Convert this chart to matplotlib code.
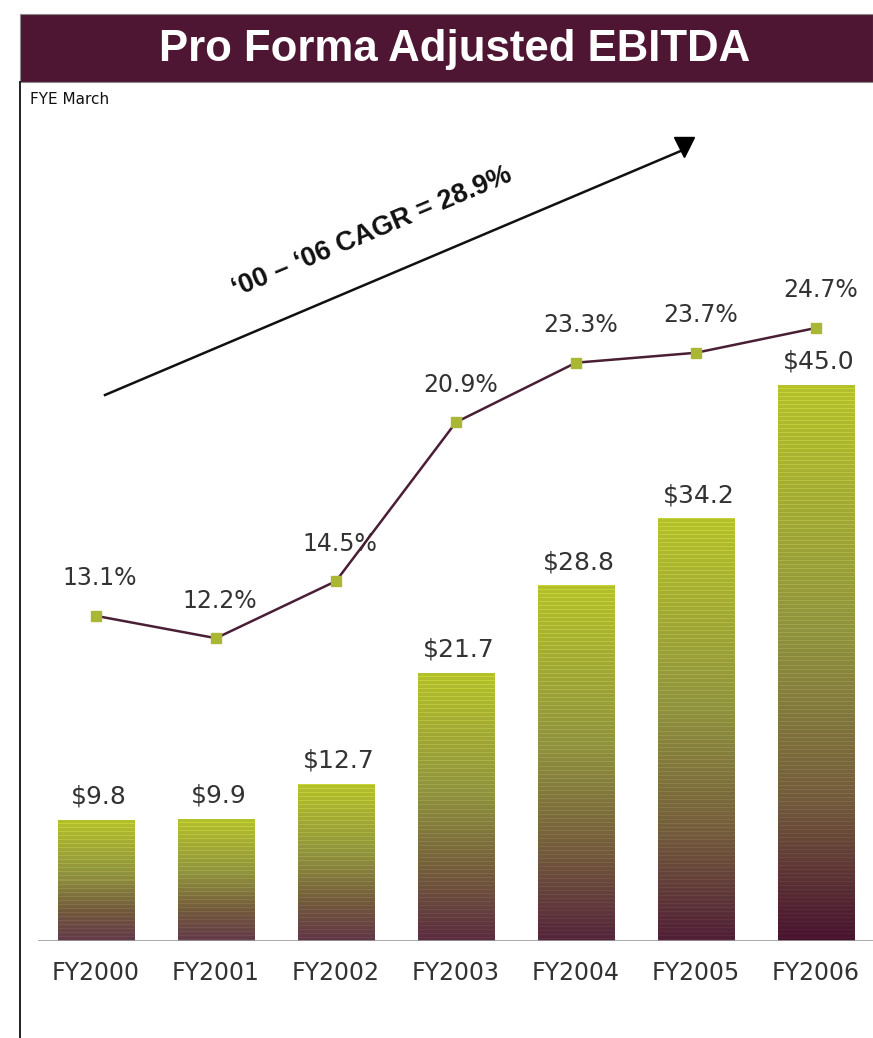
import numpy as np
import matplotlib
matplotlib.use("Agg")
import matplotlib.pyplot as plt
from matplotlib.patches import Rectangle
from matplotlib.colors import LinearSegmentedColormap, to_rgb
from matplotlib.lines import Line2D

# Fiscal years and figures ($M EBITDA, margin %)
years = ["FY2000", "FY2001", "FY2002", "FY2003", "FY2004", "FY2005", "FY2006"]
ebitda = [9.8, 9.9, 12.7, 21.7, 28.8, 34.2, 45.0]
margin = [13.1, 12.2, 14.5, 20.9, 23.3, 23.7, 24.7]
ebitda_labels = ["$9.8", "$9.9", "$12.7", "$21.7", "$28.8", "$34.2", "$45.0"]
margin_labels = ["13.1%", "12.2%", "14.5%", "20.9%", "23.3%", "23.7%", "24.7%"]
title = "Pro Forma Adjusted EBITDA"
subtitle = "FYE March"
cagr_text = "\u201800 \u2013 \u201806 CAGR = 28.9%"

W, H = 873, 1038
DPI = 100
fig = plt.figure(figsize=(W / DPI, H / DPI), dpi=DPI)
fig.patch.set_facecolor("white")

MAROON = "#4e1632"
TEXT = "#333333"

def fx(px):
    return px / W

def fy(py):
    return 1 - py / H

# Title banner
fig.patches.append(Rectangle((fx(20), fy(82)), fx(873) - fx(20), fy(14) - fy(82),
                             transform=fig.transFigure, facecolor=MAROON,
                             edgecolor="#8a8a8a", linewidth=0.8, zorder=1))
fig.text(fx(455), fy(49), title, color="white", fontsize=31.5, fontweight="bold",
         family="Liberation Sans", ha="center", va="center")
fig.text(fx(30), fy(100), subtitle, color="#111111", fontsize=11,
         family="Liberation Sans Narrow", ha="left", va="center")

# Left frame rule
fig.lines.append(Line2D([fx(20), fx(20)], [fy(82), 0], transform=fig.transFigure,
                        color="#222222", linewidth=1.4))

# Plot area
base_y, top_y = 941, 100
ax = fig.add_axes([fx(38), fy(base_y), 1 - fx(38), fy(top_y) - fy(base_y)])
ax.set_xlim(-0.483, 6.475)
ax.set_ylim(0, (base_y - top_y) / 12.356)
ax.axis("off")

x = np.arange(len(years))
bar_w = 0.64

grad_top = to_rgb("#b4c12c")
grad_mid = to_rgb("#8f923f")
grad_low = to_rgb("#725a3c")

bars = ax.bar(x, ebitda, width=bar_w, color="none", edgecolor="none", zorder=2)
vmax = max(ebitda)
for rect, v in zip(bars, ebitda):
    k = v / vmax
    bottom = np.array(to_rgb("#6a4450")) * (1 - k) + np.array(to_rgb("#47132e")) * k
    cmap = LinearSegmentedColormap.from_list(
        "bar", [(0.0, grad_top), (0.45, grad_mid), (0.75, grad_low), (1.0, bottom)])
    n = max(int(v * 12.356), 2)
    t = np.linspace(0, 1, n)
    rgb = cmap(t)[:, :3]
    # faint horizontal banding
    stripe = (np.arange(n) % 4 == 0)
    rgb[stripe] = np.clip(rgb[stripe] * 1.08 + 0.02, 0, 1)
    img = np.repeat(rgb[:, None, :], 8, axis=1)
    x0 = rect.get_x()
    im = ax.imshow(img, extent=[x0, x0 + rect.get_width(), 0, v], aspect="auto",
                   interpolation="nearest", zorder=2)
    im.set_clip_path(rect)

# Baseline
ax.axhline(0, color="#9a9a9a", linewidth=1.2, zorder=3, xmin=0, xmax=1)

for xi, v, lab in zip(x, ebitda, ebitda_labels):
    ax.annotate(lab, (xi, v), xytext=(2, 8), textcoords="offset points",
                ha="center", va="bottom", fontsize=18, color=TEXT)

for xi, lab in zip(x, years):
    ax.text(xi, -31.5 / 12.356, lab, ha="center", va="center",
            fontsize=17, color=TEXT)

# Margin line on a secondary scale
ax2 = ax.twinx()
ax2.set_ylim(0, (base_y - top_y) / 24.82)
ax2.axis("off")
ax2.plot(x, margin, color="#4a1f36", linewidth=1.8, marker="s", markersize=7.5,
         markerfacecolor="#a9b735", markeredgecolor="#a9b735", zorder=4)
for xi, v, lab in zip(x, margin, margin_labels):
    ax2.annotate(lab, (xi, v), xytext=(3, 27), textcoords="offset points",
                 ha="center", va="center", fontsize=17, color=TEXT)

# CAGR trend arrow
ax3 = fig.add_axes([0, 0, 1, 1], facecolor="none")
ax3.set_xlim(0, W)
ax3.set_ylim(H, 0)
ax3.axis("off")
ax3.plot([105, 683], [395, 150], color="#111111", linewidth=1.8)
ax3.plot([684], [147], marker="v", markersize=14, color="#000000")
ax3.text(372, 232, cagr_text, rotation=22.8, rotation_mode="anchor",
         ha="center", va="center", fontsize=19.5, fontweight="bold",
         family="Liberation Sans", color="#111111")

fig.savefig("out.png", dpi=DPI, facecolor="white")
